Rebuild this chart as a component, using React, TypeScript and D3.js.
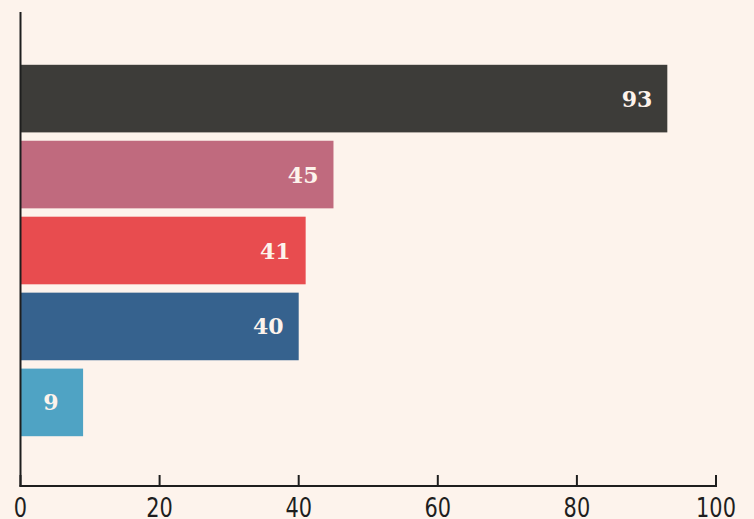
import React, { useEffect, useRef } from 'react';
import * as d3 from 'd3';

const categories = ['a', 'b', 'c', 'd', 'e'];
const values = [93, 45, 41, 40, 9];
const colors = ['#3d3c39', '#c06a7e', '#e84c4f', '#36628e', '#4fa3c4'];
const xTicks = [0, 20, 40, 60, 80, 100];

const W = 754;
const H = 519;

const App = () => {
  const ref = useRef<SVGSVGElement>(null);

  useEffect(() => {
    const svg = d3.select(ref.current);
    svg.selectAll('*').remove();

    const left = 20.5;
    const right = 716;
    const top = 12;
    const bottom = 486;

    svg.append('rect').attr('width', W).attr('height', H).attr('fill', '#fdf3ec');

    const x = d3.scaleLinear().domain([0, 100]).range([left, right]);
    const y = d3.scaleBand()
      .domain(categories)
      .range([61, 440])
      .paddingInner(0.11)
      .paddingOuter(0.05);

    const data = categories.map((c, i) => ({ c, v: values[i], color: colors[i] }));

    svg.selectAll('.bar')
      .data(data)
      .enter().append('rect')
      .attr('x', left)
      .attr('y', d => y(d.c)!)
      .attr('width', d => x(d.v) - left)
      .attr('height', y.bandwidth())
      .attr('fill', d => d.color);

    svg.selectAll('.label')
      .data(data)
      .enter().append('text')
      .attr('x', d => (x(d.v) - left < 80 ? (left + x(d.v)) / 2 - 1 : x(d.v) - 15))
      .attr('y', d => y(d.c)! + y.bandwidth() / 2 + 8)
      .attr('text-anchor', d => (x(d.v) - left < 80 ? 'middle' : 'end'))
      .attr('fill', '#fdf3ec')
      .style('font-family', '"DejaVu Serif", serif')
      .style('font-weight', 'bold')
      .style('font-size', '22px')
      .text(d => d.v);

    // axes
    svg.append('line')
      .attr('x1', left).attr('x2', left)
      .attr('y1', top).attr('y2', bottom + 1)
      .attr('stroke', '#1e1e1e').attr('stroke-width', 2);
    svg.append('line')
      .attr('x1', left - 1).attr('x2', right + 1)
      .attr('y1', bottom).attr('y2', bottom)
      .attr('stroke', '#1e1e1e').attr('stroke-width', 2);

    const g = svg.append('g');
    g.selectAll('.tick')
      .data(xTicks)
      .enter().append('line')
      .attr('x1', d => x(d)).attr('x2', d => x(d))
      .attr('y1', bottom - 11).attr('y2', bottom)
      .attr('stroke', '#1e1e1e').attr('stroke-width', 2);
    g.selectAll('.tl')
      .data(xTicks)
      .enter().append('text')
      .attr('transform', d => `translate(${x(d)},${bottom + 31}) scale(0.86,1)`)
      .attr('text-anchor', 'middle')
      .attr('fill', '#1e1e1e')
      .style('font-family', '"DejaVu Sans Condensed", "DejaVu Sans", sans-serif')
      .style('font-stretch', 'condensed')
      .style('font-size', '27px')
      .text(d => d);
  }, []);

  return (
    <svg
      ref={ref}
      width={W}
      height={H}
      style={{ position: 'absolute', left: 0, top: 0, display: 'block' }}
    />
  );
};

export default App;
